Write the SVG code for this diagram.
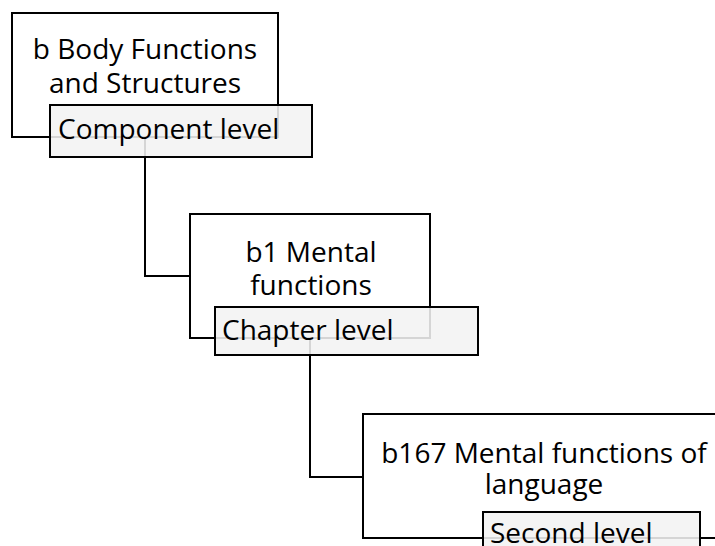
<svg xmlns="http://www.w3.org/2000/svg" width="715" height="546" viewBox="0 0 715 546">
  <style>
    .box { fill: #ffffff; stroke: #000000; stroke-width: 2; }
    .tag { fill: #f2f2f2; fill-opacity: 0.88; stroke: #000000; stroke-width: 2; }
    .link { fill: none; stroke: #000000; stroke-width: 2; }
    text { font-family: "Open Sans", "Liberation Sans", sans-serif; font-size: 28px; fill: #000000; }
    .c { text-anchor: middle; }
  </style>
  <rect width="715" height="546" fill="#ffffff"/>

  <!-- category boxes -->
  <g id="node-b">
    <rect class="box" x="12" y="13" width="266" height="124"/>
    <text class="c" x="145" y="59">b Body Functions</text>
    <text class="c" x="145" y="93">and Structures</text>
  </g>
  <g id="node-b1">
    <rect class="box" x="190" y="214" width="240" height="124"/>
    <text class="c" x="311" y="262">b1 Mental</text>
    <text class="c" x="311" y="295">functions</text>
  </g>
  <g id="node-b167">
    <rect class="box" x="363" y="414" width="362" height="124"/>
    <text class="c" x="544" y="463">b167 Mental functions of</text>
    <text class="c" x="544" y="494">language</text>
  </g>

  <!-- elbow connectors between levels -->
  <g id="connectors">
    <path class="link" d="M145 137 V276 H190"/>
    <path class="link" d="M310 338 V477 H363"/>
  </g>

  <!-- level tags, semi-transparent over the boxes -->
  <g id="tag-component">
    <rect class="tag" x="50" y="105" width="262" height="52"/>
    <text x="58" y="139">Component level</text>
  </g>
  <g id="tag-chapter">
    <rect class="tag" x="215" y="307" width="263" height="48"/>
    <text x="222" y="340">Chapter level</text>
  </g>
  <g id="tag-second">
    <rect class="tag" x="483" y="512" width="217" height="50"/>
    <text x="490" y="543">Second level</text>
  </g>
</svg>
